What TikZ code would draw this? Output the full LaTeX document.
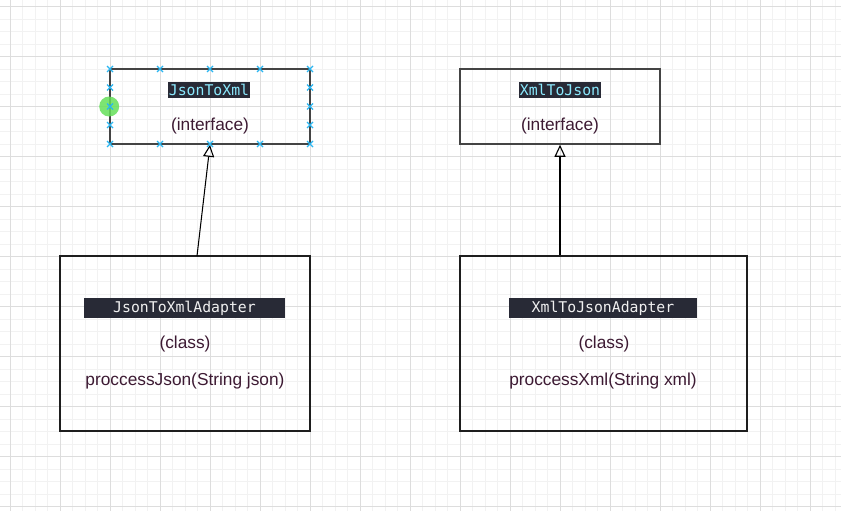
\documentclass[tikz,border=0pt]{standalone}
\usepackage{fontspec}
\setmainfont{Liberation Sans}
\setmonofont{DejaVu Sans Mono}
\usetikzlibrary{arrows.meta}
\definecolor{minorgrid}{HTML}{F2F2F2}
\definecolor{majorgrid}{HTML}{DDDDDD}
\definecolor{labelbg}{HTML}{282A36}
\definecolor{labelcyan}{HTML}{8BE9FD}
\definecolor{labelwhite}{HTML}{F0F0F0}
\definecolor{bodytext}{HTML}{3D1A33}
\definecolor{topline}{HTML}{444444}
\definecolor{botline}{HTML}{1E1E1E}
\definecolor{handle}{HTML}{29B6F2}
\definecolor{greendot}{HTML}{66E05A}
\tikzset{
  ifacebox/.style={draw=topline, line width=1.6pt, minimum width=200pt, minimum height=75pt, inner sep=0pt},
  classbox/.style={draw=botline, line width=1.4pt, inner sep=0pt},
  codelabel/.style={fill=labelbg, text=labelcyan, font=\ttfamily\fontsize{14.8}{16}\selectfont, inner xsep=0.5pt, inner ysep=0pt, minimum height=16pt},
  classlabel/.style={fill=labelbg, text=labelwhite, font=\ttfamily\fontsize{14.8}{16}\selectfont, inner sep=0pt, minimum height=20pt},
  bodylabel/.style={text=bodytext, font=\fontsize{17.3}{19}\selectfont, inner sep=0pt},
  inh/.style={draw=black, line width=1.05pt, -{Triangle[open, length=12pt, width=11pt, line width=1.1pt]}},
  hmark/.style={draw=handle, line width=1.3pt},
}
\begin{document}
\begin{tikzpicture}[x=1pt, y=-1pt]
\useasboundingbox (0,0) rectangle (841,511);
\fill[white] (0,0) rectangle (841,511);
% grid
\foreach \k in {0,...,67} {
  \draw[minorgrid, line width=0.8pt] ({-2.5+12.5*\k},0) -- ({-2.5+12.5*\k},511);
}
\foreach \k in {0,...,41} {
  \draw[minorgrid, line width=0.8pt] (0,{6.5+12.5*\k}) -- (841,{6.5+12.5*\k});
}
\foreach \k in {0,...,16} {
  \draw[majorgrid, line width=0.9pt] ({10+50*\k},0) -- ({10+50*\k},511);
}
\foreach \k in {0,...,10} {
  \draw[majorgrid, line width=0.9pt] (0,{6.5+50*\k}) -- (841,{6.5+50*\k});
}
% interface boxes
\node[ifacebox] (jx) at (210,106.5) {};
\node[ifacebox] (xj) at (560,106.5) {};
\node[codelabel] (jxl) at (209,90) {JsonToXml};
\node[codelabel] (xjl) at (560,90) {XmlToJson};
\node[bodylabel] (jxi) at (210,126) {(interface)};
\node[bodylabel] (xji) at (560,126) {(interface)};
% class boxes
\node[classbox, minimum width=250pt, minimum height=175pt] (ja) at (185,343.5) {};
\node[classbox, minimum width=287pt, minimum height=175pt] (xa) at (603.5,343.5) {};
\node[classlabel, minimum width=201pt] (jal) at (184.5,308) {JsonToXmlAdapter};
\node[classlabel, minimum width=188pt] (xal) at (603,308) {XmlToJsonAdapter};
\node[bodylabel] (jac) at (185,344) {(class)};
\node[bodylabel] (xac) at (604,344) {(class)};
\node[bodylabel] (jam) at (185,381) {proccessJson(String json)};
\node[bodylabel] (xam) at (603,381) {proccessXml(String xml)};
% connectors
\coordinate (js) at (197,256);
\draw[inh] (js) -- (jx.south);
\draw[inh] (xa.north -| xj.south) -- (xj.south);
% selection handles
\fill[greendot, opacity=0.85] (jx.west) circle (10pt);
\foreach \p in {(110,69),(160,69),(210,69),(260,69),(310,69),
                (110,144),(160,144),(210,144),(260,144),(310,144),
                (110,87.5),(110,106.5),(110,125),(310,87.5),(310,106.5),(310,125)} {
  \draw[hmark] \p ++(-3,-3) -- ++(6,6) \p ++(-3,3) -- ++(6,-6);
}
\end{tikzpicture}
\end{document}
